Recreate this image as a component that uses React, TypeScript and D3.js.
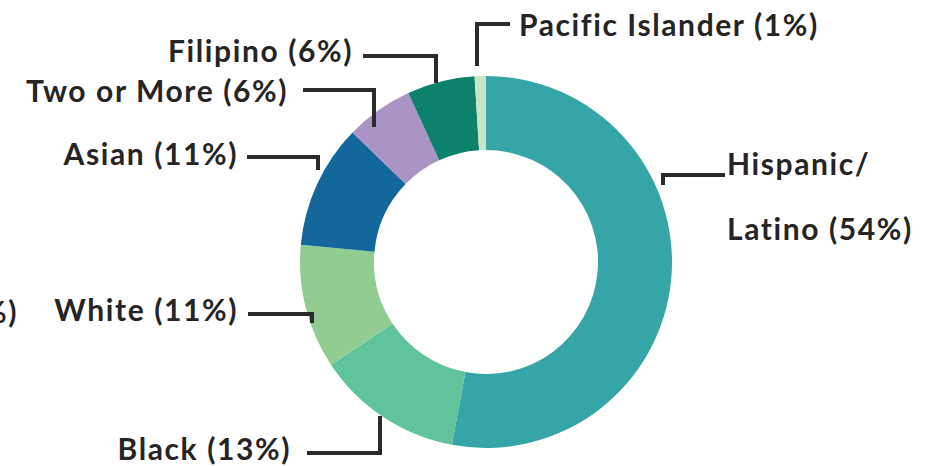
import React, { useEffect, useRef } from "react";
import * as d3 from "d3";

// slice order, clockwise from 12 o'clock
const groups = ["Hispanic/Latino", "Black", "White", "Asian", "Two or More", "Filipino", "Pacific Islander"];
const shares = [54, 13, 11, 11, 6, 6, 1];
const colors = ["#35a5a7", "#5fc39b", "#91cd91", "#13679b", "#aa93c5", "#0c826c", "#c8e6c6"];
const labelLines = [
  ["Hispanic/", "Latino (54%)"],
  ["Black (13%)"],
  ["White (11%)"],
  ["Asian (11%)"],
  ["Two or More (6%)"],
  ["Filipino (6%)"],
  ["Pacific Islander (1%)"],
];

// label placement: text anchor point + leader polyline
const layout = [
  { x: 727, y: 175, anchor: "start", lead: [[663, 185], [663, 175], [725, 175]] },
  { x: 291, y: 460, anchor: "end", lead: [[307, 453], [380, 453], [380, 416]] },
  { x: 238, y: 321, anchor: "end", lead: [[248, 314], [312, 314], [312, 323]] },
  { x: 238, y: 165, anchor: "end", lead: [[247, 157], [318, 157], [318, 170]] },
  { x: 288, y: 102, anchor: "end", lead: [[303, 90], [374, 90], [374, 127]] },
  { x: 353, y: 62, anchor: "end", lead: [[363, 56], [436, 56], [436, 83]] },
  { x: 519, y: 36, anchor: "start", lead: [[477, 66], [477, 24], [510, 24]] },
];

const W = 944;
const H = 466;

const App = () => {
  const ref = useRef<SVGSVGElement | null>(null);

  useEffect(() => {
    const svg = d3.select(ref.current);
    svg.selectAll("*").remove();

    const cx = 486;
    const cy = 262;
    const outer = 186;
    const inner = 112;

    const pie = d3.pie<number>().sort(null).value((d) => d);
    const arc = d3.arc<d3.PieArcDatum<number>>().innerRadius(inner).outerRadius(outer);

    const g = svg.append("g").attr("transform", `translate(${cx},${cy})`);
    g.selectAll("path")
      .data(pie(shares))
      .enter()
      .append("path")
      .attr("d", arc)
      .attr("fill", (d, i) => colors[i]);

    const line = d3.line();
    svg
      .append("g")
      .selectAll("path")
      .data(layout)
      .enter()
      .append("path")
      .attr("d", (d) => line(d.lead as [number, number][]))
      .attr("fill", "none")
      .attr("stroke", "#2b2a2a")
      .attr("stroke-width", 4);

    const txt = svg
      .append("g")
      .attr("font-family", "Lato, 'Open Sans', sans-serif")
      .attr("font-weight", 700)
      .attr("font-size", 30)
      .attr("letter-spacing", 1.6)
      .attr("fill", "#262424");

    layout.forEach((l, i) => {
      labelLines[i].forEach((s, k) => {
        txt
          .append("text")
          .attr("x", l.x)
          .attr("y", l.y + k * 65)
          .attr("text-anchor", l.anchor)
          .text(s);
      });
    });

    // clipped label from a neighbouring chart at the left edge
    txt.append("text").attr("x", 18).attr("y", 323).attr("text-anchor", "end").text("6%)");
  }, []);

  return (
    <svg
      ref={ref}
      width={W}
      height={H}
      style={{ position: "absolute", left: 0, top: 0, background: "#fff" }}
    />
  );
};

export default App;
